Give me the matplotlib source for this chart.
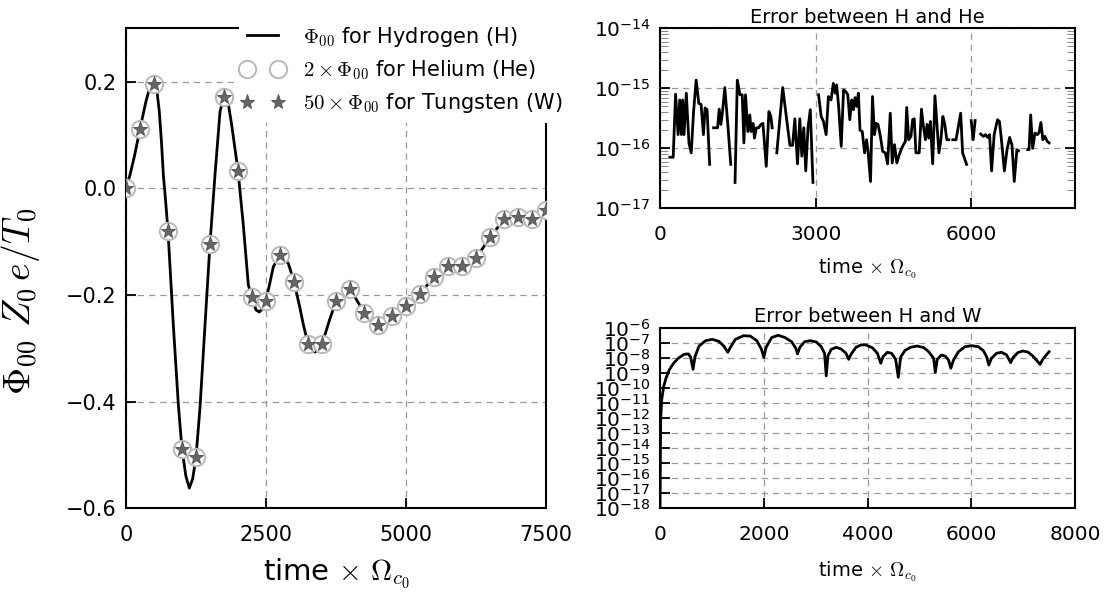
import numpy as np
import matplotlib
matplotlib.use("Agg")
import matplotlib.pyplot as plt
from matplotlib.ticker import FuncFormatter, LogLocator, NullLocator
from matplotlib.legend_handler import HandlerLine2D

# --- data ---
# Phi_00 for hydrogen (solid curve)
h_time = [0, 71, 150, 250, 350, 420, 490, 547, 595, 637, 667, 700, 750, 845, 935,
          1000, 1070, 1131, 1190, 1250, 1321, 1411, 1500, 1589, 1679, 1750, 1800,
          1887, 2000, 2095, 2184, 2250, 2321, 2381, 2440, 2500, 2631, 2750, 2899,
          3000, 3107, 3167, 3250, 3320, 3375, 3440, 3500, 3643, 3750, 4000, 4250,
          4500, 4750, 5000, 5250, 5500, 5750, 6000, 6250, 6500, 6750, 7000, 7250, 7500]
h_phi = [0.0, 0.025, 0.06, 0.111, 0.160, 0.188, 0.198, 0.187, 0.144, 0.081, 0.025,
         -0.014, -0.080, -0.256, -0.406, -0.489, -0.540, -0.562, -0.545, -0.504,
         -0.412, -0.256, -0.104, 0.025, 0.144, 0.172, 0.176, 0.119, 0.033, -0.069,
         -0.181, -0.204, -0.228, -0.232, -0.225, -0.211, -0.147, -0.125, -0.141,
         -0.175, -0.225, -0.256, -0.291, -0.304, -0.307, -0.302, -0.292, -0.244,
         -0.212, -0.188, -0.233, -0.256, -0.239, -0.220, -0.198, -0.166, -0.145,
         -0.145, -0.131, -0.092, -0.058, -0.053, -0.057, -0.041]

# rescaled He and W samples (they sit on the H curve)
mark_time = list(range(0, 7501, 250))
he_phi = [0.0, 0.111, 0.195, -0.080, -0.489, -0.504, -0.104, 0.172, 0.033, -0.204,
          -0.211, -0.125, -0.175, -0.291, -0.292, -0.212, -0.188, -0.233, -0.256,
          -0.239, -0.220, -0.198, -0.166, -0.145, -0.145, -0.131, -0.092, -0.058,
          -0.053, -0.057, -0.041]
w_phi = list(he_phi)

nan = np.nan
# |H - He| error (gaps where the error is exactly zero)
he_err_time = [190, 254, 300, 349, 380, 412, 437, 463, 507, 558, 602, 647, 697, 748,
               792, 837, 869, 907, 957, 980,
               1033, 1110, 1141, 1173, 1205, 1249, 1312, 1363, 1400,
               1446, 1490, 1541, 1585, 1617, 1648, 1693, 1731, 1756, 1794, 1820, 1858,
               1902, 1946, 1984, 2048, 2099, 2137, 2162, 2200,
               2251, 2365, 2504, 2555, 2599, 2650, 2695, 2733, 2771, 2809, 2853, 2897,
               2948, 3000,
               3056, 3107, 3151, 3202, 3246, 3297, 3341, 3379, 3405, 3443, 3493, 3538,
               3582, 3620, 3658, 3696, 3728, 3760, 3791, 3823, 3855, 3899, 3943, 3982,
               4013, 4058, 4096, 4134, 4165, 4203, 4248, 4292, 4343, 4387, 4438, 4476,
               4520, 4565, 4603, 4647, 4692, 4730, 4755, 4793, 4837, 4869, 4901, 4933,
               4996, 5040, 5072, 5116, 5148, 5180, 5211, 5256, 5300, 5338, 5376, 5414,
               5452, 5490, 5528, 5566, 5600,
               5643, 5706, 5795, 5833, 5909, 5950,
               5998, 6036, 6074, 6120,
               6182, 6232, 6277, 6315, 6353, 6391, 6441, 6505, 6543, 6581, 6638, 6689,
               6739, 6784, 6828, 6879, 6911, 7000,
               7088, 7113, 7145, 7183, 7228, 7272, 7304, 7342, 7380, 7418, 7463, 7500]
he_err = [7.1e-17, 7.1e-17, 8.0e-16, 1.69e-16, 6.4e-16, 1.69e-16, 6.4e-16, 1.69e-16,
          8.3e-16, 1.23e-16, 8.4e-17, 4.1e-16, 1.37e-15, 5.6e-16, 5.4e-16, 1.69e-16,
          4.7e-16, 4.4e-16, 5.4e-17, nan,
          2.2e-16, 2.2e-16, 4.5e-16, 2.5e-16, 4.1e-16, 1.03e-15, 2.2e-16, 5.4e-17, nan,
          2.7e-17, 1.37e-15, 7.8e-16, 7.8e-16, 1.23e-16, 7.8e-16, 1.9e-16, 3.6e-16,
          1.9e-16, 2.6e-16, 1.48e-16, 2.2e-16, 2.2e-16, 2.5e-16, 2.6e-16, 5.0e-17,
          4.1e-16, 3.4e-16, 2.2e-16, nan,
          8.4e-17, 1.03e-15, 1.12e-16, 1.12e-16, 3.1e-16, 5.5e-17, 3.1e-16, 7.4e-17,
          2.2e-16, 4.2e-17, 2.2e-16, 4.4e-16, 2.7e-17, nan,
          7.8e-16, 3.4e-16, 2.8e-16, 1.69e-16, 7.3e-16, 6.4e-16, 1.21e-15, 8.3e-16,
          1.14e-15, 5.0e-16, 1.08e-16, 9.4e-16, 8.8e-16, 7.8e-16, 3.0e-16, 6.4e-16,
          4.4e-16, 7.0e-16, 5.0e-16, 8.3e-16, 2.0e-16, 1.9e-16, 8.4e-17, 1.39e-16,
          8.4e-17, 2.8e-17, 7.3e-16, 1.69e-16, 2.6e-16, 2.5e-16, 1.58e-16, 8.9e-17,
          8.4e-17, 5.5e-17, 3.85e-16, 5.7e-17, 1.15e-16, 5.7e-17, 7.4e-17, 9.5e-17,
          1.15e-16, 1.31e-16, 4.8e-16, 1.39e-16, 1.58e-16, 3.0e-16, 3.1e-16, 8.4e-17,
          8.4e-17, 4.5e-16, 2.5e-16, 1.39e-16, 2.5e-16, 1.48e-16, 2.8e-16, 5.5e-17,
          7.5e-16, 2.5e-16, 8.4e-17, 1.39e-16, 3.4e-16, 2.5e-16, 1.39e-16, 1.39e-16, nan,
          1.39e-16, 1.39e-16, 3.85e-16, 8.4e-17, 5.4e-17, nan,
          2.9e-16, 1.39e-16, 2.9e-16, nan,
          1.73e-16, 1.58e-16, 1.69e-16, 1.52e-16, 1.69e-16, 4.2e-17, 1.69e-16, 3.0e-16,
          2.8e-16, 1.39e-16, 4.2e-17, 9.5e-17, 1.52e-16, 1.15e-16, 2.8e-17, 9.5e-17,
          9.1e-17, nan,
          9.5e-17, 9.5e-17, 3.6e-16, 1.0e-16, 1.8e-16, 1.69e-16, 1.8e-16, 2.7e-16,
          1.39e-16, 1.58e-16, 1.31e-16, 1.23e-16]

# |H - W| error
w_err_time = [0, 13, 32, 70, 115, 178, 261, 350, 465, 548, 592, 637, 675, 752, 879,
              1006, 1134, 1229, 1306, 1357, 1452, 1612, 1739, 1866, 1956, 2000, 2045,
              2153, 2280, 2408, 2535, 2618, 2650, 2695, 2790, 2898, 3013, 3108, 3172,
              3204, 3236, 3300, 3395, 3491, 3586, 3637, 3682, 3777, 3873, 3969, 4096,
              4191, 4255, 4300, 4383, 4465, 4542, 4593, 4637, 4720, 4828, 4956, 5083,
              5179, 5274, 5306, 5344, 5421, 5497, 5561, 5606, 5657, 5752, 5880, 6007,
              6134, 6230, 6294, 6338, 6389, 6485, 6580, 6676, 6759, 6803, 6899, 6994,
              7090, 7186, 7281, 7326, 7377, 7472, 7500]
w_err = [1e-18, 7.4e-13, 1.55e-11, 1.2e-10, 4.3e-10, 1.55e-9, 4.3e-9, 9.1e-9, 1.7e-8,
         1.8e-8, 1.07e-8, 1.7e-9, 1.2e-8, 6.0e-8, 1.35e-7, 1.66e-7, 1.23e-7, 6.0e-8,
         2.3e-8, 4.9e-8, 1.66e-7, 2.9e-7, 2.75e-7, 1.35e-7, 3.6e-8, 1.07e-8, 4.9e-8,
         2.2e-7, 3.1e-7, 2.2e-7, 1.17e-7, 4.2e-8, 1.8e-8, 4.9e-8, 1.17e-7, 1.35e-7,
         1.1e-7, 5.4e-8, 1.95e-8, 6.2e-10, 1.3e-8, 3.6e-8, 4.9e-8, 3.8e-8, 1.95e-8,
         7.8e-9, 1.7e-8, 4.9e-8, 7.1e-8, 7.1e-8, 4.5e-8, 1.95e-8, 4.3e-9, 1.2e-8,
         2.3e-8, 1.95e-8, 7.8e-9, 5.0e-10, 1.07e-8, 3.0e-8, 4.9e-8, 6.0e-8, 4.7e-8,
         2.5e-8, 9.1e-9, 1.07e-9, 7.8e-9, 1.5e-8, 1.3e-8, 7.1e-9, 2.0e-9, 7.1e-9,
         2.5e-8, 5.4e-8, 6.3e-8, 5.4e-8, 3.0e-8, 1.2e-8, 3.3e-9, 9.1e-9, 1.95e-8,
         2.3e-8, 1.6e-8, 4.7e-9, 1.0e-8, 2.2e-8, 2.8e-8, 2.4e-8, 1.3e-8, 5.5e-9,
         3.6e-9, 7.8e-9, 1.95e-8, 2.5e-8]

# --- style ---
plt.rcParams['mathtext.fontset'] = 'cm'
plt.rcParams['axes.linewidth'] = 1.5
for ax_ in ('xtick', 'ytick'):
    plt.rcParams[ax_ + '.direction'] = 'in'
    plt.rcParams[ax_ + '.major.size'] = 7
    plt.rcParams[ax_ + '.minor.size'] = 6
    plt.rcParams[ax_ + '.major.width'] = 1.3
    plt.rcParams[ax_ + '.minor.width'] = 0.6
plt.rcParams['xtick.major.pad'] = 12
plt.rcParams['ytick.major.pad'] = 7
grid_kw = dict(color='0.6', linestyle='--', linewidth=0.9, dashes=(5, 4))

fig = plt.figure(figsize=(11.13, 5.95), dpi=100)
ax1 = fig.add_axes([0.1132, 0.1457, 0.3774, 0.8067])
ax2 = fig.add_axes([0.593, 0.6499, 0.3729, 0.3025])
ax3 = fig.add_axes([0.593, 0.1457, 0.3729, 0.3037])

time_lbl = r'time$\,\times\,\Omega_{c_0}$'

# left panel
ax1.plot(h_time, h_phi, color='black', lw=2, zorder=3,
         label=r'$\Phi_{00}$ for Hydrogen (H)')
ax1.plot(mark_time, he_phi, 'o', ms=12.5, mfc='white', mec='0.72', mew=1.4, zorder=4,
         label=r'$2\times\Phi_{00}$ for Helium (He)')
ax1.plot(mark_time, w_phi, '*', ms=11, mfc='0.4', mec='0.3', mew=0.6, zorder=5,
         label=r'$50\times\Phi_{00}$ for Tungsten (W)')
ax1.set_xlim(0, 7500)
ax1.set_ylim(-0.6, 0.3)
ax1.set_xticks([0, 2500, 5000, 7500])
ax1.set_yticks([-0.6, -0.4, -0.2, 0.0, 0.2])
ax1.tick_params(labelsize=15, right=False, top=False)
ax1.grid(True, **grid_kw)
ax1.set_xlabel(time_lbl, fontsize=21, labelpad=8)
ax1.set_ylabel(r'$\Phi_{00}\ Z_0\, e/T_0$', fontsize=27)
ax1.yaxis.set_label_coords(-0.2, 0.43)
handles, labels = ax1.get_legend_handles_labels()
leg = ax1.legend(handles, labels, loc='upper right', bbox_to_anchor=(1.06, 1.025),
                 numpoints=2, fontsize=15, handlelength=1.5, handletextpad=1.2,
                 labelspacing=0.45, frameon=True, fancybox=False, framealpha=1,
                 borderaxespad=0,
                 handler_map={h: HandlerLine2D(marker_pad=0) for h in handles})
leg.get_frame().set_edgecolor('none')
leg.set_zorder(10)

# top right panel
ax2.plot(he_err_time, he_err, color='black', lw=2)
ax2.set_yscale('log')
ax2.set_xlim(0, 8000)
ax2.set_ylim(1e-17, 1e-14)
ax2.set_xticks([0, 3000, 6000])
ax2.set_yticks([1e-17, 1e-16, 1e-15, 1e-14])
ax2.yaxis.set_minor_locator(LogLocator(base=10, subs=np.arange(2, 10)))
ax2.tick_params(which='both', left=True, right=True, top=False)
ax2.tick_params(which='minor', colors='0.45')
ax2.set_title('Error between H and He', fontsize=14, pad=4)
ax2.set_xlabel(time_lbl, fontsize=14, labelpad=9)

# bottom right panel
ax3.plot(w_err_time, w_err, color='black', lw=2)
ax3.set_yscale('log')
ax3.set_xlim(0, 8000)
ax3.set_ylim(1e-18, 1e-6)
ax3.set_xticks([0, 2000, 4000, 6000, 8000])
ax3.set_yticks(10.0 ** np.arange(-18, -5))
ax3.yaxis.set_minor_locator(NullLocator())
ax3.tick_params(right=False, top=False)
ax3.set_title('Error between H and W', fontsize=14, pad=4)
ax3.set_xlabel(time_lbl, fontsize=14, labelpad=11)

pow_fmt = FuncFormatter(lambda v, p: r'$\mathregular{10^{%d}}$' % int(round(np.log10(v))))
for ax in (ax2, ax3):
    ax.yaxis.set_major_formatter(pow_fmt)
    ax.tick_params(axis='both', which='major', labelsize=14.5)
    ax.grid(True, which='major', **grid_kw)

fig.savefig('out.png', dpi=100)
